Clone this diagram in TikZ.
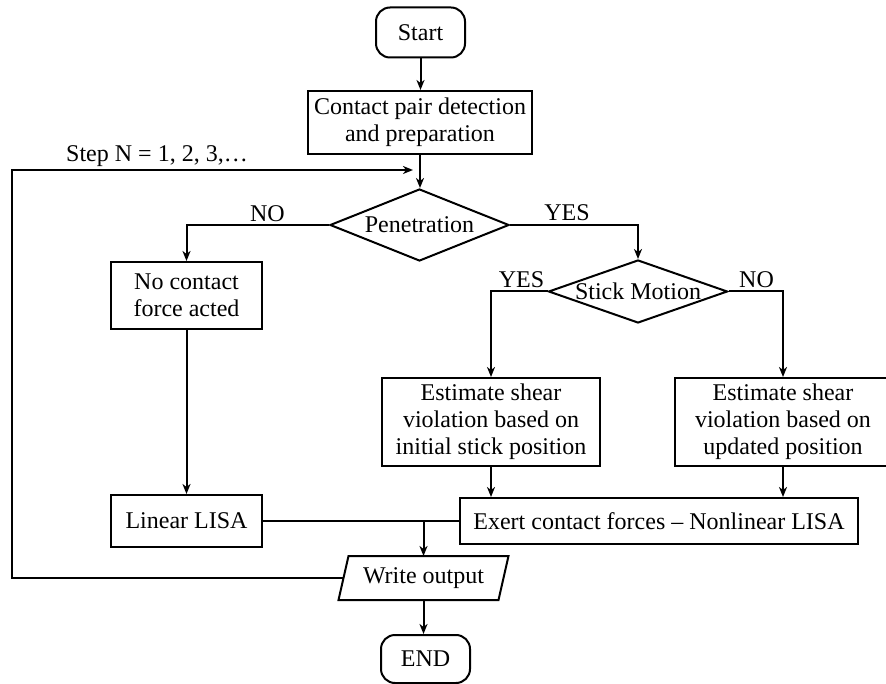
\documentclass[tikz,border=0pt]{standalone}
\usepackage{fontspec}
\setmainfont{Liberation Serif}
\usetikzlibrary{shapes.geometric,arrows.meta,calc}
\begin{document}
\begin{tikzpicture}[x=1pt,y=-1pt, font=\fontsize{24}{27}\selectfont, line width=2pt,
 box/.style={draw, rectangle, inner sep=0pt, align=center},
 term/.style={draw, rectangle, rounded corners=14pt, inner sep=0pt},
 dec/.style={draw, diamond, inner sep=0pt},
 arr/.style={-{Stealth[length=10pt,width=8pt,inset=3pt]}},
 lab/.style={anchor=base, inner sep=0pt}]
\useasboundingbox (0,0) rectangle (886,684);

\node[term, minimum width=89pt, minimum height=50pt] (start) at (420.5,32.5) {Start};
\node[box, minimum width=224pt, minimum height=63pt] (prep) at (420,122.5) {Contact pair detection\\and preparation};
\node[dec, minimum width=179pt, minimum height=72pt] (pen) at (419.5,225) {\makebox[0pt]{Penetration}};
\node[dec, minimum width=179pt, minimum height=63pt] (stick) at (638,291.5) {\makebox[0pt]{Stick Motion}};
\node[box, minimum width=151pt, minimum height=67pt] (noc) at (186.5,295.5) {No contact\\force acted};
\node[box, minimum width=151pt, minimum height=52pt] (lin) at (186.5,521) {Linear LISA};
\node[box, minimum width=218pt, minimum height=88pt] (estl) at (491,422) {Estimate shear\\violation based on\\initial stick position};
\node[box, minimum width=216pt, minimum height=88pt] (estr) at (783,422) {Estimate shear\\violation based on\\updated position};
\node[box, minimum width=398pt, minimum height=46pt] (exert) at (659,521) {Exert contact forces – Nonlinear LISA};
\node[inner sep=0pt, minimum width=158pt, minimum height=42pt] (write) at (423.5,578) {Write output};
\draw ($(write.north west)+(5,0)$) -- ($(write.north east)+(5,0)$) -- ($(write.south east)+(-5,0)$) -- ($(write.south west)+(-5,0)$) -- cycle;
\node[term, minimum width=89pt, minimum height=48pt] (end) at (425.5,659) {END};

\node[lab] (step) at (157,162) {Step N = 1, 2, 3,…};
\node[lab] (no1) at (267.5,222) {NO};
\node[lab] (yes1) at (567,221) {YES};
\node[lab] (yes2) at (521.5,288) {YES};
\node[lab] (no2) at (756.5,288) {NO};

\draw[arr] (start.south) -- (start.south |- prep.north);
\draw[arr] (prep.south) -- (prep.south |- pen.north);
\draw[arr] (pen.west) -| (noc.north);
\draw[arr] (pen.east) -| (stick.north);
\draw[arr] (stick.west) -| (estl.north);
\draw[arr] (stick.east) -| (estr.north);
\draw[arr] (noc.south) -- (lin.north);
\draw[arr] (estl.south) -- (estl.south |- exert.north);
\draw[arr] (estr.south) -- (estr.south |- exert.north);
\draw (lin.east) -- (exert.west);
\coordinate (merge) at (write.north |- lin.east);
\draw[arr] (merge) -- (write.north);
\draw[arr] (write.south) -- (write.south |- end.north);
\coordinate (lc) at (11.5,170);
\coordinate (loopend) at (413,170);
\draw[arr] (write.west) -| (lc) -- (loopend);
\end{tikzpicture}
\end{document}
